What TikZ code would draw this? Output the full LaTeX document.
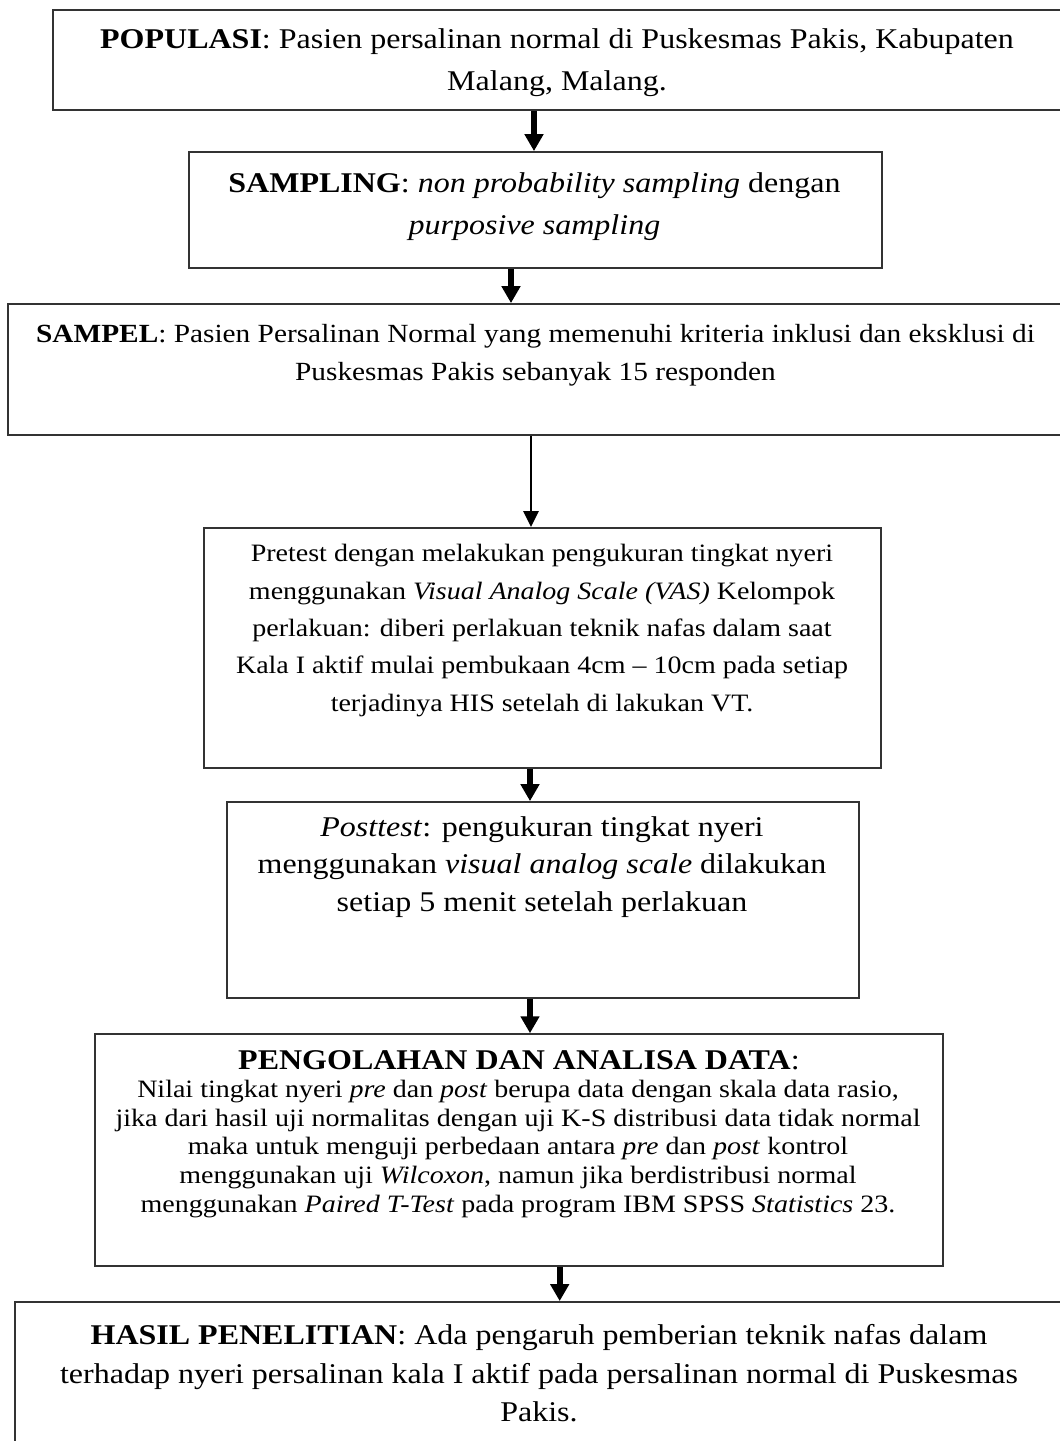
\documentclass[tikz,border=0pt]{standalone}
\usepackage{fontspec}
\setmainfont{Liberation Serif}[FakeStretch=1.12]
\usetikzlibrary{arrows.meta}

\begin{document}
\begin{tikzpicture}[x=0.42pt, y=-0.42pt,
    kotak/.style={draw=black!80, line width=0.8pt, inner sep=0pt},
    isi/.style={align=center, inner sep=0pt},
    panah/.style={-{Triangle[width=7.6pt,length=7.1pt]}, line width=2.4pt},
    panahtipis/.style={-{Triangle[width=6.3pt,length=6.7pt]}, line width=1.1pt}]
  \useasboundingbox[fill=white] (0,0) rectangle (1059,1441);
  % kotak alur
  \node[kotak, minimum width=423.4pt, minimum height=42pt] (pop) at (557,60) {};
  \node[kotak, minimum width=291.1pt, minimum height=48.7pt] (samp) at (535.5,210) {};
  \node[kotak, minimum width=443.1pt, minimum height=55pt] (sampel) at (535.5,369.5) {};
  \node[kotak, minimum width=284.3pt, minimum height=100.8pt] (pre) at (542.5,648) {};
  \node[kotak, minimum width=265.4pt, minimum height=82.3pt] (post) at (543,900) {};
  \node[kotak, minimum width=356.2pt, minimum height=97.3pt] (olah) at (519,1150) {};
  \node[kotak, minimum width=440.2pt, minimum height=63pt] (hasil) at (539,1377) {};
  % teks
  \node[isi, font=\fontsize{12}{17.5}\selectfont] (pop-t) at (557,62.5)
    {\textbf{POPULASI}: Pasien persalinan normal di Puskesmas Pakis, Kabupaten\\
     Malang, Malang.};
  \node[isi, font=\fontsize{12}{17.6}\selectfont] (samp-t) at (534.5,207)
    {\textbf{SAMPLING}: \textit{non probability sampling} dengan\\
     \textit{purposive sampling}};
  \node[isi, font=\fontsize{11}{16.1}\selectfont] (sampel-t) at (535.5,355)
    {\textbf{SAMPEL}: Pasien Persalinan Normal yang memenuhi kriteria inklusi dan eksklusi di\\
     Puskesmas Pakis sebanyak 15 responden};
  \node[isi, font=\fontsize{10.5}{15.7}\selectfont] (pre-t) at (542,630.4)
    {Pretest dengan melakukan pengukuran tingkat nyeri\\
     menggunakan \textit{Visual Analog Scale (VAS)} Kelompok\\
     perlakuan: diberi perlakuan teknik nafas dalam saat\\
     Kala I aktif mulai pembukaan 4cm – 10cm pada setiap\\
     terjadinya HIS setelah di lakukan VT.};
  \node[isi, font=\fontsize{12}{15.8}\selectfont] (post-t) at (542,867)
    {\textit{Posttest}: pengukuran tingkat nyeri\\
     menggunakan \textit{visual analog scale} dilakukan\\
     setiap 5 menit setelah perlakuan};
  \node[isi, font=\fontsize{12}{14}\selectfont] (olah-j) at (519,1060)
    {\textbf{PENGOLAHAN DAN ANALISA DATA}:};
  \node[isi, font=\fontsize{10.5}{12.05}\selectfont] (olah-t) at (518,1149)
    {Nilai tingkat nyeri \textit{pre} dan \textit{post} berupa data dengan skala data rasio,\\
     jika dari hasil uji normalitas dengan uji K-S distribusi data tidak normal\\
     maka untuk menguji perbedaan antara \textit{pre} dan \textit{post} kontrol\\
     menggunakan uji \textit{Wilcoxon}, namun jika berdistribusi normal\\
     menggunakan \textit{Paired T-Test} pada program IBM SPSS \textit{Statistics} 23.};
  \node[isi, font=\fontsize{12}{16.1}\selectfont] (hasil-t) at (539,1373.4)
    {\textbf{HASIL PENELITIAN}: Ada pengaruh pemberian teknik nafas dalam\\
     terhadap nyeri persalinan kala I aktif pada persalinan normal di Puskesmas\\
     Pakis.};
  % panah
  \draw[panah] (534,0 |- pop.south) -- (534,0 |- samp.north);
  \draw[panah] (511,0 |- samp.south) -- (511,0 |- sampel.north);
  \draw[panahtipis] (531,0 |- sampel.south) -- (531,0 |- pre.north);
  \draw[panah] (530,0 |- pre.south) -- (530,0 |- post.north);
  \draw[panah] (530,0 |- post.south) -- (530,0 |- olah.north);
  \draw[panah] (559.7,0 |- olah.south) -- (559.7,0 |- hasil.north);
\end{tikzpicture}
\end{document}
